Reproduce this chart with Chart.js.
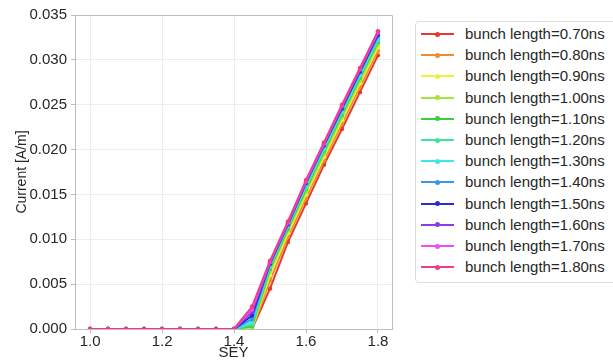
<!DOCTYPE html>
<html><head><meta charset="utf-8">
<script src="https://cdn.jsdelivr.net/npm/chart.js@4/dist/chart.umd.min.js"></script>
<style>
html,body{margin:0;padding:0;background:#fff;width:613px;height:362px;overflow:hidden;font-family:"Liberation Sans",Arial,sans-serif;}
#wrap{position:absolute;left:0;top:0;width:613px;height:362px;}
#legend{position:absolute;left:415px;top:21px;width:220px;height:262px;border:1px solid #dcdcdc;border-radius:4px;background:#fff;box-sizing:border-box;}
.item{position:absolute;left:0;height:20px;font-size:15px;color:#262626;white-space:nowrap;}
.item .ln{position:absolute;left:5px;top:9px;width:33px;height:2px;}
.item .dt{position:absolute;left:19px;top:7.5px;width:5px;height:5px;border-radius:50%;}
.item .tx{position:absolute;left:49px;top:1px;}
</style></head>
<body><div id="wrap"><canvas id="c" width="613" height="362"></canvas><div id="legend"></div></div>
<script>
const sey = [1.0,1.05,1.1,1.15,1.2,1.25,1.3,1.35,1.4,1.45,1.5,1.55,1.6,1.65,1.7,1.75,1.8];
const bunchLengths = ["0.70","0.80","0.90","1.00","1.10","1.20","1.30","1.40","1.50","1.60","1.70","1.80"];
const colors = ["#e63a2e","#f08c2a","#eef03a","#a6e63a","#3ccf3c","#3ce6a0","#3ce8e8","#3c96e8","#2a2ad6","#8c3ce6","#f050f0","#f03c8c"];
const xTicks = [1.0,1.2,1.4,1.6,1.8];
const yTicks = [0,0.005,0.01,0.015,0.02,0.025,0.03,0.035];
const z8 = [0,0,0,0,0,0,0,0,0];
const bl070 = z8.concat([0,0.0045,0.0097,0.0140,0.0183,0.0223,0.0264,0.0305]);
const bl080 = z8.concat([0,0.0054,0.0103,0.0146,0.0188,0.0229,0.0270,0.0310]);
const bl090 = z8.concat([0.0001,0.0060,0.0107,0.0150,0.0192,0.0233,0.0274,0.0314]);
const bl100 = z8.concat([0.0002,0.0064,0.0110,0.0153,0.0195,0.0236,0.0277,0.0317]);
const bl110 = z8.concat([0.0003,0.0067,0.0112,0.0156,0.0198,0.0239,0.0280,0.0320]);
const bl120 = z8.concat([0.0005,0.0069,0.0114,0.0158,0.0200,0.0241,0.0282,0.0322]);
const bl130 = z8.concat([0.0008,0.0071,0.0115,0.0160,0.0202,0.0243,0.0284,0.0324]);
const bl140 = z8.concat([0.0011,0.0072,0.0116,0.0162,0.0204,0.0245,0.0286,0.0326]);
const bl150 = z8.concat([0.0015,0.0073,0.0117,0.0163,0.0205,0.0246,0.0287,0.0328]);
const bl160 = z8.concat([0.0019,0.0074,0.0118,0.0164,0.0206,0.0248,0.0289,0.0330]);
const bl170 = z8.concat([0.0022,0.0075,0.0119,0.0165,0.0207,0.0249,0.0290,0.0331]);
const bl180 = z8.concat([0.0025,0.0076,0.0120,0.0166,0.0208,0.0250,0.0291,0.0332]);
const series = [bl070,bl080,bl090,bl100,bl110,bl120,bl130,bl140,bl150,bl160,bl170,bl180];

const datasets = series.map((vals,i)=>({
  label: "bunch length=" + bunchLengths[i] + "ns",
  data: vals.map((v,j)=>({x:sey[j], y:v})),
  borderColor: colors[i],
  backgroundColor: colors[i],
  borderWidth: 2,
  pointRadius: 2.2,
  pointBorderWidth: 0,
  tension: 0,
  order: series.length - 1 - i
}));

const font = {family:'"Liberation Sans", Arial, sans-serif', size:15};
new Chart(document.getElementById('c'), {
  type: 'line',
  data: {datasets},
  options: {
    responsive:false, animation:false, devicePixelRatio:1,
    layout:{padding:{left:14,top:15,right:221,bottom:0}},
    plugins:{legend:{display:false}, tooltip:{enabled:false}},
    scales:{
      x:{type:'linear', min:0.958, max:1.839,
        afterBuildTicks:(s)=>{s.ticks = xTicks.map(v=>({value:v}));},
        afterFit:(s)=>{s.height=33;},
        ticks:{font, color:'#262626', padding:0, callback:(v)=>v.toFixed(1), maxRotation:0},
        grid:{color:'#ececec', drawTicks:true, tickLength:4, tickColor:'#bdbdbd'},
        border:{color:'#bdbdbd', width:1},
        title:{display:true, text:'SEY', font, color:'#262626', padding:{top:0,bottom:0}}
      },
      y:{min:0, max:0.035,
        afterBuildTicks:(s)=>{s.ticks = yTicks.map(v=>({value:v}));},
        afterFit:(s)=>{s.width=61;},
        ticks:{font, color:'#262626', padding:4, callback:(v)=>v.toFixed(3)},
        grid:{color:'#ececec', drawTicks:true, tickLength:4, tickColor:'#bdbdbd'},
        border:{color:'#bdbdbd', width:1},
        title:{display:true, text:'Current [A/m]', font:{family:font.family, size:14}, color:'#262626', padding:{top:0,bottom:0}}
      }
    }
  },
  plugins:[{id:'frame', afterDraw(chart){
    const a = chart.chartArea, ctx = chart.ctx;
    ctx.save(); ctx.strokeStyle='#bdbdbd'; ctx.lineWidth=1;
    ctx.beginPath(); ctx.moveTo(a.left, a.top+0.5); ctx.lineTo(a.right+0.5, a.top+0.5); ctx.lineTo(a.right+0.5, a.bottom); ctx.stroke();
    ctx.restore();
  }}]
});

const lg = document.getElementById('legend');
datasets.forEach((d,i)=>{
  const it = document.createElement('div');
  it.className='item'; it.style.top = (2 + i*21.2) + 'px';
  it.innerHTML = '<div class="ln" style="background:'+d.borderColor+'"></div><div class="dt" style="background:'+d.borderColor+'"></div><div class="tx">'+d.label+'</div>';
  lg.appendChild(it);
});
</script></body></html>
